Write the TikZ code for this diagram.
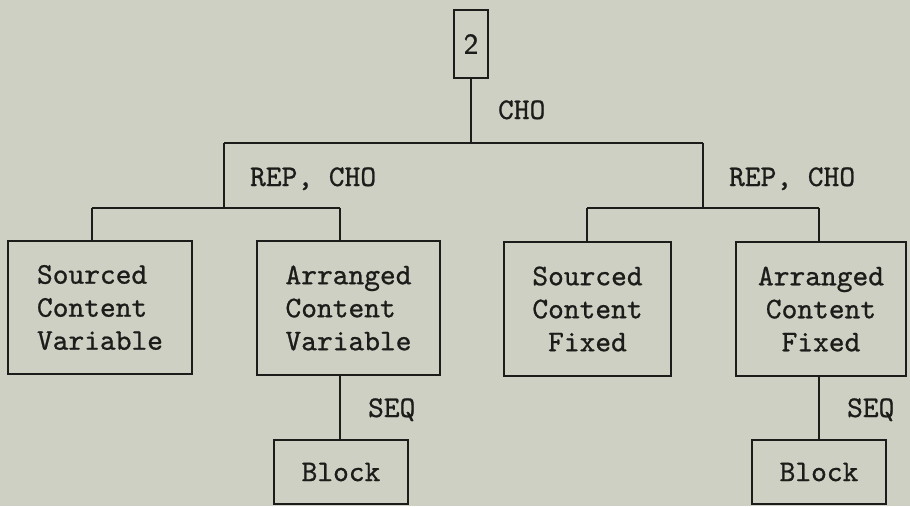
\documentclass[tikz,border=0pt]{standalone}
\usepackage{fontspec}
\usepackage{xcolor}
\newfontfamily\typewriter{lmmono10-regular.otf}[FakeBold=0.8]
\newfontfamily\digitfont{lmsans10-regular.otf}[FakeBold=0.8]
\definecolor{paper}{RGB}{205,208,194}
\definecolor{ink}{RGB}{28,28,26}
\begin{document}
\begin{tikzpicture}[x=1pt,y=-1pt,
  line width=2.2pt, draw=ink,
  txt/.style={font=\fontsize{30}{33}\selectfont\typewriter, text=ink},
  box/.style={txt, draw=ink, line width=2.2pt, inner sep=0pt},
  lbl/.style={txt, inner sep=0pt, anchor=base west}]

% page
\fill[paper] (0,0) rectangle (910,506);
\useasboundingbox (0,0) rectangle (910,506);

% root
\node[box, minimum width=34pt, minimum height=68pt,
      font=\fontsize{29}{31}\selectfont\digitfont] (root) at (471,44) {2};

% top-level choice bar
\coordinate (tl) at (224,143);
\coordinate (tr) at (703,143);
\draw (root.south) -- (root.south |- tl);
\draw (tl) -- (tr);
\node[lbl] (cho) at (497,119) {CHO};

% second-level bars
\coordinate (ll) at (92,208);
\coordinate (lr) at (340,208);
\coordinate (rl) at (587,208);
\coordinate (rr) at (819,208);
\draw (tl) -- (tl |- ll);
\draw (tr) -- (tr |- rl);
\draw (ll) -- (lr);
\draw (rl) -- (rr);
\node[lbl] (repl) at (249,186) {REP, CHO};
\node[lbl] (repr) at (728,186) {REP, CHO};

% content boxes
\node[box, align=left, minimum width=184pt, minimum height=133pt] (scv) at (100,307.5)
  {Sourced\\Content\\Variable};
\node[box, align=left, minimum width=183pt, minimum height=134pt] (acv) at (348.5,308)
  {Arranged\\Content\\Variable};
\node[box, align=center, minimum width=167pt, minimum height=134pt] (scf) at (587.5,309)
  {Sourced\\Content\\Fixed};
\node[box, align=center, minimum width=170pt, minimum height=134pt] (acf) at (821,309)
  {Arranged\\Content\\Fixed};

\draw (ll) -- (ll |- scv.north);
\draw (lr) -- (lr |- acv.north);
\draw (rl) -- (rl |- scf.north);
\draw (rr) -- (rr |- acf.north);

% sequence blocks
\node[box, minimum width=134pt, minimum height=64pt] (bl) at (341,472) {Block};
\node[box, minimum width=134pt, minimum height=64pt] (br) at (819,472) {Block};
\draw (lr |- acv.south) -- (lr |- bl.north);
\draw (rr |- acf.south) -- (rr |- br.north);
\node[lbl] (seql) at (367,417) {SEQ};
\node[lbl] (seqr) at (846,417) {SEQ};
\end{tikzpicture}
\end{document}
